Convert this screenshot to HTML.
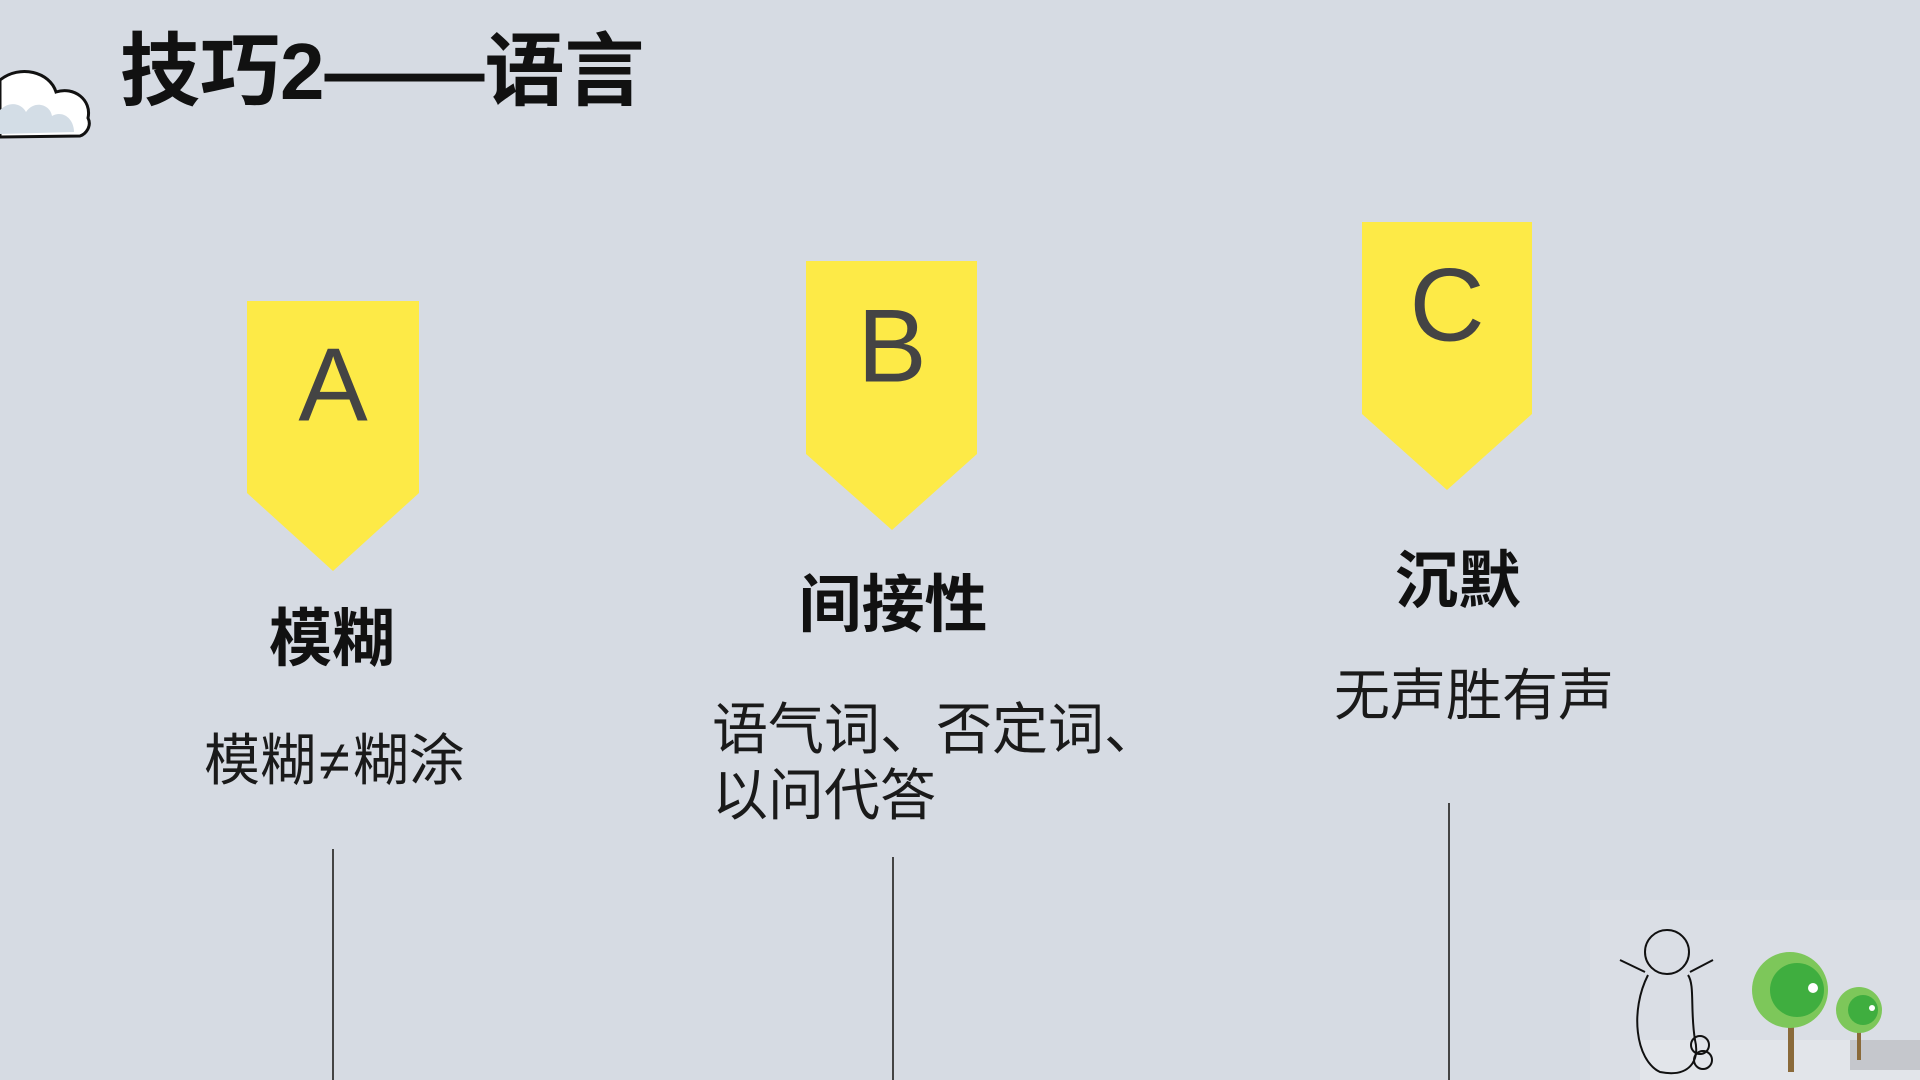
<!DOCTYPE html>
<html><head><meta charset="utf-8"><style>
body{margin:0;width:1920px;height:1080px;overflow:hidden;background:#d6dbe3;position:relative;font-family:"Liberation Sans","Noto Sans CJK SC",sans-serif}
.a{position:absolute}
.t{position:absolute;white-space:nowrap;color:#111}
.h{font-weight:bold;font-size:63px;transform:translate(-50%,-50%)}
.b{font-size:56px;color:#1a1a1a;font-family:"Noto Sans CJK SC",sans-serif}
.L{position:absolute;font-size:104px;color:#444;transform:translate(-50%,-50%)}
.ln{position:absolute;width:2px;background:#444}
</style></head><body>
<svg class="a" style="left:0;top:0" width="1920" height="1080">
<path d="M0,80 C20,64 50,72 56,92 C74,86 92,100 88,118 C92,126 86,134 80,136 L0,137 Z" fill="#fff" stroke="#111" stroke-width="3"/>
<path d="M0,110 C10,100 22,104 26,112 C34,100 50,104 52,116 C62,110 74,118 74,132 L0,134Z" fill="#d3dde6"/>
<polygon points="247,301 419,301 419,493 333,571 247,493" fill="#fdea47"/>
<polygon points="806,261 977,261 977,454 892,530 806,454" fill="#fdea47"/>
<polygon points="1362,222 1532,222 1532,414 1447,490 1362,414" fill="#fdea47"/>
<rect x="1590" y="900" width="330" height="180" fill="#dadee5"/>
<rect x="1640" y="1040" width="280" height="40" fill="#e2e5ea"/>
<rect x="1850" y="1040" width="70" height="30" fill="#9a9ca0" opacity="0.4"/>
<g stroke="#111" stroke-width="2" fill="none">
<circle cx="1667" cy="952" r="22"/>
<path d="M1648,975 C1630,1010 1635,1060 1660,1072 C1690,1078 1700,1060 1695,1040 C1690,1010 1695,985 1688,975"/>
<path d="M1645,972 L1620,960 M1690,972 L1713,960"/>
<circle cx="1700" cy="1045" r="9"/><circle cx="1703" cy="1060" r="9"/>
</g>
<rect x="1788" y="1010" width="6" height="62" fill="#8a6a3a"/>
<rect x="1857" y="1018" width="4" height="42" fill="#8a6a3a"/>
<circle cx="1790" cy="990" r="38" fill="#7dc75a"/>
<circle cx="1797" cy="990" r="27" fill="#3fae3f"/>
<circle cx="1813" cy="988" r="5" fill="#fff"/>
<circle cx="1859" cy="1010" r="23" fill="#7dc75a"/>
<circle cx="1863" cy="1010" r="15" fill="#3fae3f"/>
<circle cx="1872" cy="1008" r="3" fill="#fff"/>
</svg>
<div class="t" style="left:120px;top:22px;font-size:80px;font-weight:bold;line-height:100px">技巧2——语言</div>
<div class="L" style="left:333px;top:386px">A</div>
<div class="L" style="left:892px;top:347px">B</div>
<div class="L" style="left:1447px;top:306px">C</div>
<div class="t h" style="left:332px;top:634px">模糊</div>
<div class="t h" style="left:893px;top:600px">间接性</div>
<div class="t h" style="left:1458px;top:576px">沉默</div>
<div class="t b" style="left:204px;top:724px;line-height:66px">模糊<span style="font-family:'Liberation Sans',sans-serif;margin:0 3px">≠</span>糊涂</div>
<div class="t b" style="left:712px;top:693px;line-height:66px">语气词、否定词、<br>以问代答</div>
<div class="t b" style="left:1334px;top:659px;line-height:66px">无声胜有声</div>
<div class="ln" style="left:332px;top:849px;height:231px"></div>
<div class="ln" style="left:892px;top:857px;height:223px"></div>
<div class="ln" style="left:1448px;top:803px;height:277px"></div>
</body></html>
